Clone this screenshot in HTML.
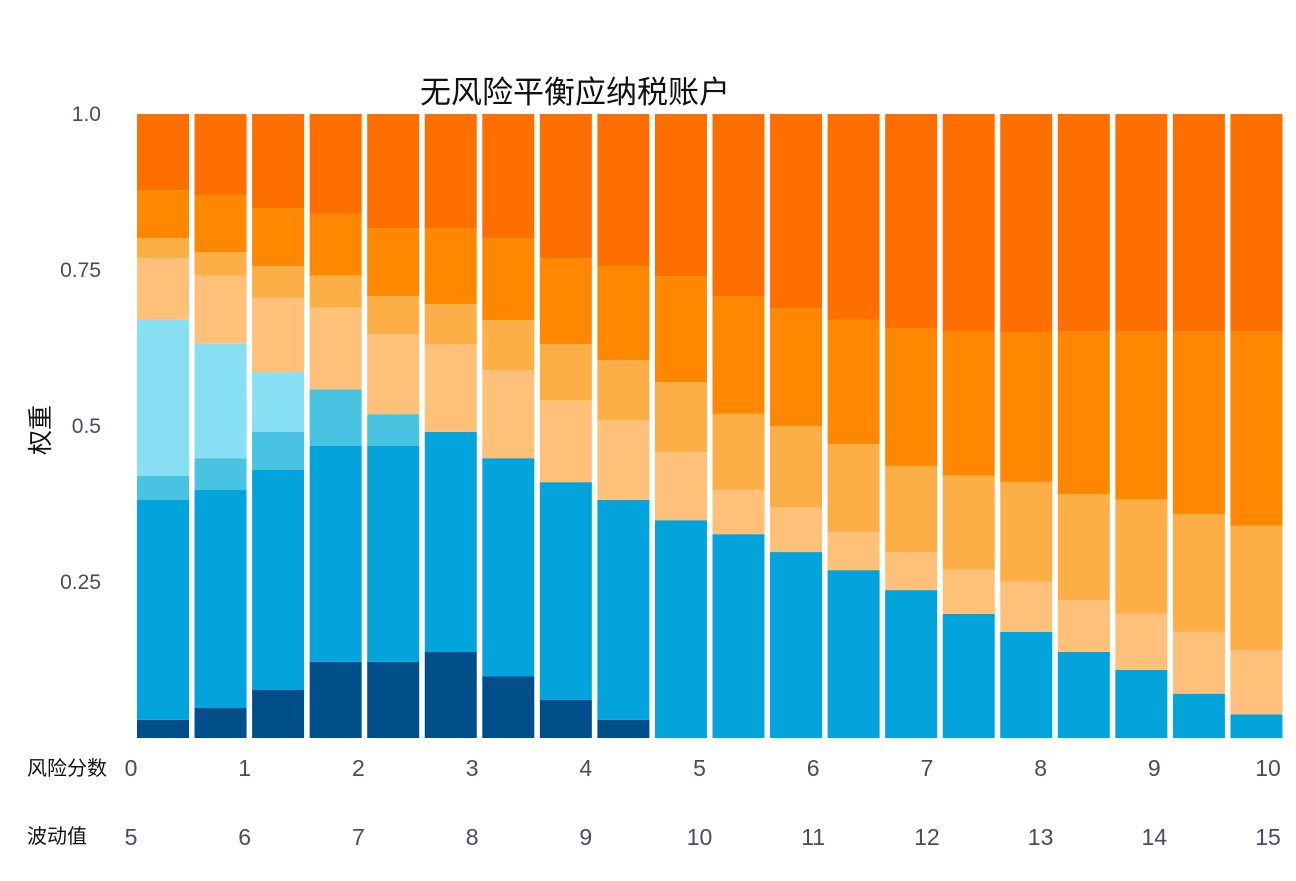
<!DOCTYPE html>
<html><head><meta charset="utf-8"><style>
body{margin:0;background:#fff;}
svg text{font-family:"Liberation Sans","Noto Sans CJK SC",sans-serif;}
</style></head><body>
<svg id="chart" width="1296" height="876">
<text x="575" y="103" text-anchor="middle" font-size="31" fill="#111">无风险平衡应纳税账户</text>
<text transform="translate(49,430) rotate(-90)" text-anchor="middle" font-size="25" fill="#111">权重</text>
<text x="27" y="775" font-size="20" fill="#111">风险分数</text>
<text x="27" y="843" font-size="20" fill="#111">波动值</text>
<g id="grid"></g><g id="bars"></g><g id="ticks"></g>
</svg>
<script>
const yTicks=[1.0,0.75,0.5,0.25];
const yTickLabels=["1.0","0.75","0.5","0.25"];
const riskScores=["0","1","2","3","4","5","6","7","8","9","10"];
const volatility=["5","6","7","8","9","10","11","12","13","14","15"];
const sDarkBlue=[.029,.048,.077,.122,.122,.138,.099,.061,.029,0,0,0,0,0,0,0,0,0,0,0];
const sBlue=[.353,.349,.353,.346,.346,.353,.349,.349,.353,.349,.327,.298,.269,.237,.199,.170,.138,.109,.071,.038];
const sCyan=[.038,.051,.061,.090,.051,0,0,0,0,0,0,0,0,0,0,0,0,0,0,0];
const sLightCyan=[.25,.183,.096,0,0,0,0,0,0,0,0,0,0,0,0,0,0,0,0,0];
const sPeach=[.099,.109,.119,.131,.128,.141,.141,.131,.128,.109,.071,.071,.061,.061,.071,.080,.083,.090,.099,.103];
const sLightOrange=[.032,.038,.051,.051,.061,.064,.080,.090,.096,.112,.122,.131,.141,.138,.151,.160,.170,.183,.189,.199];
const sOrange=[.077,.090,.093,.099,.109,.122,.131,.138,.151,.170,.189,.189,.199,.221,.231,.240,.260,.269,.292,.311];
const sDarkOrange=[.122,.131,.151,.160,.183,.183,.199,.231,.244,.260,.292,.311,.330,.343,.349,.349,.349,.349,.349,.349];
const series=[sDarkBlue,sBlue,sCyan,sLightCyan,sPeach,sLightOrange,sOrange,sDarkOrange];
const names=["dark-blue","blue","cyan","light-cyan","peach","light-orange","orange","dark-orange"];
const colors=["#004f8a","#03a4dc","#48c4e2","#87dff3","#ffc07a","#fdae46","#ff8800","#ff6f00"];
const NS="http://www.w3.org/2000/svg";
const y0=738,y1=114;
const yScale=v=>y0-(y0-y1)*v;
const n=sBlue.length, xL=137, step=57.55, bw=52;
const xScale=i=>xL+i*step;
const bars=document.getElementById('bars');
for(let i=0;i<n;i++){
  let total=0;
  for(let s=0;s<series.length;s++) total+=series[s][i];
  let acc=0;
  for(let s=0;s<series.length;s++){
    const v=series[s][i]/total;
    if(v<=0){continue;}
    const top=acc+v;
    const r=document.createElementNS(NS,'rect');
    r.setAttribute('x',xScale(i));r.setAttribute('width',bw);
    r.setAttribute('y',yScale(top));r.setAttribute('height',yScale(acc)-yScale(top));
    r.setAttribute('fill',colors[s]);
    
    
    bars.appendChild(r);
    acc=top;
  }
}
const ticks=document.getElementById('ticks');
yTicks.forEach((t,k)=>{
  const tx=document.createElementNS(NS,'text');
  tx.setAttribute('x',101);tx.setAttribute('y',yScale(t)+7);
  tx.setAttribute('text-anchor','end');tx.setAttribute('font-size','21');tx.setAttribute('fill','#4a4a68');
  tx.textContent=yTickLabels[k];
  
  
  ticks.appendChild(tx);
});
const xs0=131, xs1=1268;
riskScores.forEach((l,k)=>{
  const x=xs0+(xs1-xs0)*k/(riskScores.length-1);
  const a=document.createElementNS(NS,'text');
  a.setAttribute('x',x);a.setAttribute('y',776);a.setAttribute('text-anchor','middle');
  a.setAttribute('font-size','23');a.setAttribute('fill','#4a4a68');a.textContent=l;
  
  
  ticks.appendChild(a);
  const b=document.createElementNS(NS,'text');
  b.setAttribute('x',x);b.setAttribute('y',845);b.setAttribute('text-anchor','middle');
  b.setAttribute('font-size','23');b.setAttribute('fill','#4a4a68');b.textContent=volatility[k];
  
  
  ticks.appendChild(b);
});
</script>
</body></html>
